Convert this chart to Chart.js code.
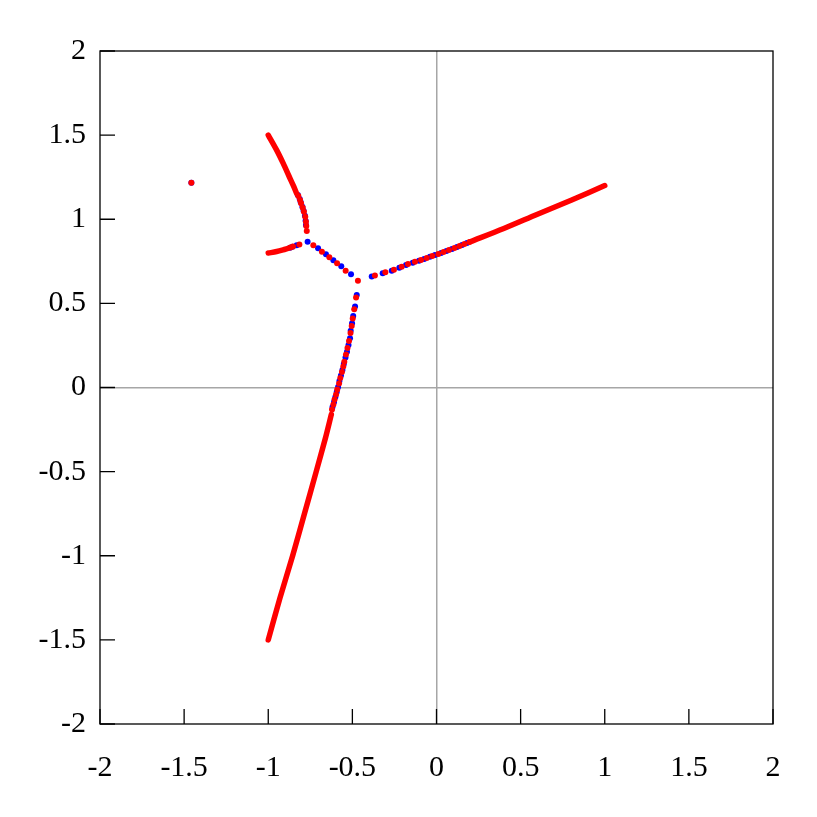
<!DOCTYPE html>
<html lang="en">

<head>
    <meta charset="UTF-8" />
    <title>Root locus</title>
    <style>
        body {
            margin: 0;
            padding: 0;
            background: #fff;
        }

        canvas {
            display: block;
        }
    </style>
    <script src="https://cdn.jsdelivr.net/npm/chart.js"></script>
</head>

<body>

    <canvas id="locus" width="817" height="817"></canvas>

    <script>
        // Graduations des axes
        const tickValues = [-2, -1.5, -1, -0.5, 0, 0.5, 1, 1.5, 2];

        // Points rouges isolés (partie clairsemée des branches)
        const redDots = [
            [-1.457, 1.217],
            // branche haute
            [-0.821, 1.138], [-0.811, 1.114], [-0.805, 1.095], [-0.795, 1.069], [-0.788, 1.045],
            [-0.780, 1.015], [-0.776, 0.985], [-0.774, 0.960], [-0.771, 0.930],
            // branche gauche
            [-0.868, 0.832], [-0.853, 0.838], [-0.815, 0.850],
            // segment central
            [-0.732, 0.845], [-0.681, 0.807], [-0.637, 0.774], [-0.591, 0.738], [-0.540, 0.694], [-0.467, 0.635],
            // branche descendante
            [-0.478, 0.535], [-0.489, 0.465], [-0.498, 0.410], [-0.504, 0.366], [-0.511, 0.324], [-0.520, 0.276],
            [-0.529, 0.235], [-0.538, 0.196], [-0.548, 0.153], [-0.554, 0.125], [-0.562, 0.092], [-0.572, 0.056],
            [-0.579, 0.024], [-0.590, -0.012], [-0.597, -0.042], [-0.606, -0.071], [-0.613, -0.101], [-0.621, -0.131],
            // branche droite
            [-0.366, 0.665], [-0.304, 0.685], [-0.253, 0.700], [-0.207, 0.718], [-0.169, 0.734], [-0.128, 0.748],
            [-0.092, 0.758], [-0.058, 0.770], [-0.025, 0.782], [0.011, 0.793], [0.042, 0.805], [0.074, 0.817],
            [0.107, 0.829], [0.137, 0.841], [0.166, 0.853], [0.196, 0.865]
        ];

        // Points bleus
        const blueDots = [
            [-1.457, 1.217],
            [-0.824, 1.144], [-0.813, 1.120], [-0.807, 1.101], [-0.797, 1.075], [-0.790, 1.051],
            [-0.782, 1.021], [-0.778, 0.991], [-0.776, 0.966],
            [-0.871, 0.830], [-0.856, 0.837], [-0.831, 0.845],
            [-0.766, 0.867], [-0.704, 0.827], [-0.657, 0.792], [-0.613, 0.756], [-0.566, 0.720], [-0.508, 0.673],
            [-0.474, 0.550], [-0.484, 0.481], [-0.495, 0.425], [-0.502, 0.382], [-0.510, 0.338], [-0.514, 0.292],
            [-0.523, 0.253], [-0.532, 0.213], [-0.541, 0.178], [-0.551, 0.140], [-0.559, 0.104], [-0.568, 0.071],
            [-0.577, 0.039], [-0.585, 0.003], [-0.593, -0.027], [-0.601, -0.056], [-0.609, -0.086], [-0.618, -0.116],
            [-0.385, 0.659], [-0.320, 0.679], [-0.266, 0.694], [-0.221, 0.712], [-0.181, 0.728], [-0.141, 0.742],
            [-0.104, 0.754], [-0.073, 0.764], [-0.039, 0.777], [-0.009, 0.788], [0.027, 0.799], [0.059, 0.811],
            [0.092, 0.823], [0.122, 0.835], [0.152, 0.847], [0.181, 0.859]
        ];

        // Parties denses (points serrés qui forment un trait continu)
        const densePathA = [[-1.0, 1.5], [-0.950, 1.411], [-0.911, 1.332], [-0.877, 1.257], [-0.850, 1.198], [-0.830, 1.150]];
        const densePathB = [[-1.0, 0.799], [-0.950, 0.808], [-0.912, 0.818], [-0.883, 0.827]];
        const densePathD = [[-0.625, -0.16], [-0.66, -0.3], [-0.715, -0.5], [-0.785, -0.75], [-0.855, -1.0], [-0.93, -1.25], [-1.0, -1.5]];
        const densePathE = [[0.2, 0.866], [0.4, 0.945], [0.6, 1.03], [0.8, 1.113], [1.0, 1.2]];

        const toXY = arr => arr.map(p => ({ x: p[0], y: p[1] }));

        const labelFont = { family: 'Liberation Serif', size: 30 };

        function denseLine(path) {
            return {
                data: toXY(path),
                showLine: true,
                borderColor: '#ff0000',
                borderWidth: 5.5,
                borderCapStyle: 'round',
                borderJoinStyle: 'round',
                tension: 0.3,
                pointRadius: 0,
                order: 0
            };
        }

        // Cadre + graduations intérieures (bas et gauche)
        const framePlugin = {
            id: 'frame',
            afterDraw(chart) {
                const { ctx, chartArea: a, scales } = chart;
                const len = 15;
                ctx.save();
                ctx.strokeStyle = '#000';
                ctx.lineWidth = 1.3;
                ctx.strokeRect(a.left, a.top, a.right - a.left, a.bottom - a.top);
                ctx.beginPath();
                tickValues.forEach(v => {
                    const px = scales.x.getPixelForValue(v);
                    ctx.moveTo(px, a.bottom); ctx.lineTo(px, a.bottom - len);
                    const py = scales.y.getPixelForValue(v);
                    ctx.moveTo(a.left, py); ctx.lineTo(a.left + len, py);
                });
                ctx.stroke();
                ctx.restore();
            }
        };

        const zeroGrid = {
            drawTicks: false,
            color: c => (c.tick && c.tick.value === 0) ? '#a6a6a6' : 'rgba(0,0,0,0)',
            lineWidth: 1.5
        };

        new Chart(document.getElementById('locus').getContext('2d'), {
            type: 'scatter',
            data: {
                datasets: [
                    {
                        data: toXY(redDots),
                        backgroundColor: '#ff0000',
                        borderWidth: 0,
                        pointRadius: 3,
                        order: 0
                    },
                    denseLine(densePathA),
                    denseLine(densePathB),
                    denseLine(densePathD),
                    denseLine(densePathE),
                    {
                        data: toXY(blueDots),
                        backgroundColor: '#0000ff',
                        borderWidth: 0,
                        pointRadius: 3,
                        order: 1
                    }
                ]
            },
            options: {
                responsive: false,
                animation: false,
                layout: { padding: { left: 0, right: 44, top: 51, bottom: 0 } },
                plugins: {
                    legend: { display: false },
                    tooltip: { enabled: false }
                },
                scales: {
                    x: {
                        type: 'linear',
                        min: -2,
                        max: 2,
                        afterBuildTicks: s => { s.ticks = tickValues.map(v => ({ value: v })); },
                        afterFit: s => { s.height = 93; },
                        ticks: {
                            font: labelFont,
                            color: '#000',
                            padding: 26,
                            maxRotation: 0,
                            callback: v => String(v)
                        },
                        grid: zeroGrid,
                        border: { display: false }
                    },
                    y: {
                        type: 'linear',
                        min: -2,
                        max: 2,
                        afterBuildTicks: s => { s.ticks = tickValues.map(v => ({ value: v })); },
                        afterFit: s => { s.width = 100; },
                        ticks: {
                            font: labelFont,
                            color: '#000',
                            padding: 14,
                            callback: v => String(v)
                        },
                        grid: zeroGrid,
                        border: { display: false }
                    }
                }
            },
            plugins: [framePlugin]
        });
    </script>
</body>

</html>
